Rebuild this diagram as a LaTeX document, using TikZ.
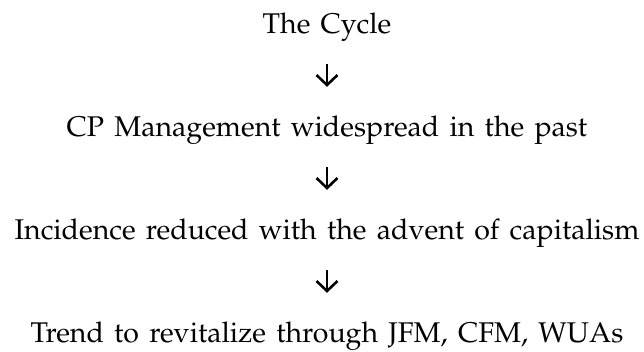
\documentclass[tikz,border=0pt]{standalone}
\usepackage[T1]{fontenc}
\usepackage{mathpazo}
\usetikzlibrary{arrows.meta, positioning}
\newcommand{\stagefont}{\fontsize{28.5}{32}\selectfont\setlength{\spaceskip}{0.36em}}

\begin{document}
\begin{tikzpicture}[
    x=1pt, y=-1pt,
    stage/.style={inner sep=0pt, anchor=base, text height=20pt, text depth=7pt, font=\stagefont},
    flow/.style={line width=2.6pt, -{Straight Barb[length=10pt, width=21pt, line width=2.6pt]}}
]
\useasboundingbox (0,0) rectangle (644,351);

\node[stage] (cycle) at (327, 33) {The Cycle};
\node[stage] (cpm) at (327, 136) {CP Management widespread in the past};
\node[stage] (incid) at (327, 239) {Incidence reduced with the advent of capitalism};
\node[stage] (trend) at (327, 342) {Trend to revitalize through JFM, CFM, WUAs};

\draw[flow, shorten <=24pt, shorten >=29pt] (cycle.south) -- (cpm.north);
\draw[flow, shorten <=24pt, shorten >=29pt] (cpm.south) -- (incid.north);
\draw[flow, shorten <=24pt, shorten >=29pt] (incid.south) -- (trend.north);
\end{tikzpicture}
\end{document}
